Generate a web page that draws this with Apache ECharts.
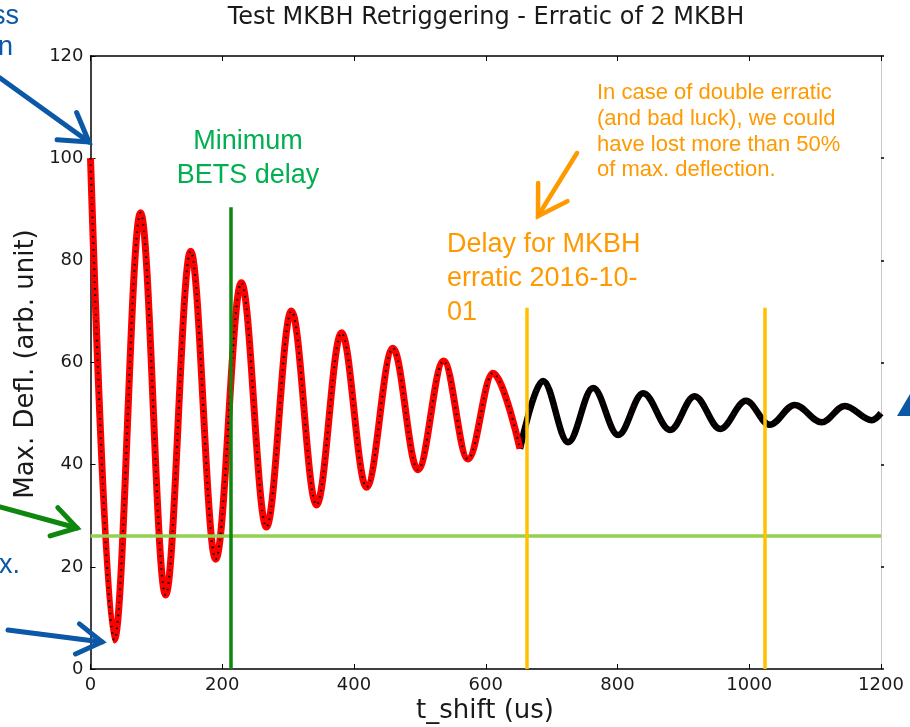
<!DOCTYPE html>
<html><head><meta charset="utf-8">
<script src="https://cdn.jsdelivr.net/npm/echarts@6/dist/echarts.min.js"></script>
<style>html,body{margin:0;padding:0;background:#fff}#c{width:910px;height:727px}</style>
</head><body><div id="c"></div>
<script>
// ---- data (peaks / troughs of the damped oscillation) ----
const tShift  = [0, 36, 76, 114, 152, 190, 229, 267, 305, 343, 381, 419, 459, 497, 536, 573, 611, 652,
                 687, 725, 763, 801, 839, 880, 917, 956, 995, 1031, 1069, 1110, 1145, 1186, 1200];
const maxDefl = [100, 5.7, 89.3, 14.5, 81.8, 21.5, 75.6, 27.8, 70.1, 32.1, 65.8, 35.6, 62.8, 39.0, 60.3, 41.1, 57.9, 43.1,
                 56.4, 44.4, 55.0, 45.8, 54.0, 46.8, 53.4, 47.0, 52.5, 47.8, 51.7, 48.3, 51.5, 48.7, 50.1];
const redUntil = 652;                 // red marker series ends here
const minBetsDelay = 213;             // green vertical line
const minBetsTop = 90.4;
const erraticDelays = [662, 1024];    // yellow vertical lines
const erraticTop = 70.7;
const halfLevel = 26;                 // light green horizontal line
const xTickValues = [0, 200, 400, 600, 800, 1000, 1200];
const yTickValues = [0, 20, 40, 60, 80, 100, 120];

const fullPts = tShift.map((t, i) => [t, maxDefl[i]]);
const redPts = fullPts.filter(p => p[0] <= redUntil);
const blackPts = fullPts.filter(p => p[0] >= redUntil);
const SMOOTH = 0.36;

const chart = echarts.init(document.getElementById('c'), null, {renderer: 'canvas'});

function arrow(x1, y1, x2, y2, color, w, head, spread) {
  const a = Math.atan2(y2 - y1, x2 - x1);
  const s = spread || 0.5;
  const p1 = [x2 - head * Math.cos(a - s), y2 - head * Math.sin(a - s)];
  const p2 = [x2 - head * Math.cos(a + s), y2 - head * Math.sin(a + s)];
  return [
    {type: 'line', shape: {x1, y1, x2, y2}, style: {stroke: color, lineWidth: w, lineCap: 'round'}, z: 100},
    {type: 'polyline', shape: {points: [p1, [x2, y2], p2]}, style: {stroke: color, lineWidth: w, fill: null, lineCap: 'round', lineJoin: 'miter'}, z: 100}
  ];
}
function txt(text, x, y, size, color, align, family, extra) {
  return Object.assign({type: 'text', x, y, z: 100,
    style: {text, font: size + 'px ' + (family || '"Liberation Sans", Arial, sans-serif'), fill: color,
            align: align || 'left', verticalAlign: 'middle'}}, extra || {});
}

const BLUE = '#0B58A6', GREEN_TXT = '#00B050', GREEN_D = '#0E870E', ORANGE = '#FF9900';
const tickFont = {fontFamily: '"DejaVu Sans", sans-serif', fontSize: 18, color: '#1a1a1a'};
const DJ = '"DejaVu Sans", sans-serif';

const graphics = [
  txt('Test MKBH Retriggering - Erratic of 2 MKBH', 486, 18, 24, '#1a1a1a', 'center', DJ),
  txt('Max. Defl. (arb. unit)', 26, 364, 26, '#1a1a1a', 'center', DJ, {rotation: Math.PI / 2}),
  txt('t_shift (us)', 485, 711, 26, '#1a1a1a', 'center', DJ),
  txt('Minimum', 248, 142, 27, GREEN_TXT, 'center'),
  txt('BETS delay', 248, 176, 27, GREEN_TXT, 'center'),
  txt('Delay for MKBH', 447, 245, 27, ORANGE, 'left'),
  txt('erratic 2016-10-', 447, 279, 27, ORANGE, 'left'),
  txt('01', 447, 313, 27, ORANGE, 'left'),
  txt('In case of double erratic', 597, 93, 22, ORANGE, 'left'),
  txt('(and bad luck), we could', 597, 118.5, 22, ORANGE, 'left'),
  txt('have lost more than 50%', 597, 144.5, 22, ORANGE, 'left'),
  txt('of max. deflection.', 597, 170, 22, ORANGE, 'left'),
  txt('ss', 19, 17, 27, BLUE, 'right'),
  txt('n', 13, 48, 27, BLUE, 'right'),
  txt('x.', 20, 566, 27, BLUE, 'right'),
  {type: 'polygon', shape: {points: [[897, 416], [910, 394], [910, 416]]}, style: {fill: BLUE}, z: 100},
  ...arrow(0, 78, 89, 142, BLUE, 5, 32, 0.55),
  ...arrow(8, 630, 102, 642, BLUE, 5, 29, 0.55),
  ...arrow(0, 507, 77, 528, GREEN_D, 5, 28, 0.55),
  ...arrow(577, 153, 538, 216, ORANGE, 4.5, 33, 0.55)
];

const lineBase = {type: 'line', smooth: SMOOTH, smoothMonotone: 'x', showSymbol: false};

const option = {
  animation: false,
  backgroundColor: '#fff',
  grid: {left: 90.5, right: 29, top: 56, bottom: 58, containLabel: false},
  xAxis: [{
    type: 'value', min: 0, max: 1200, interval: 200, position: 'bottom',
    axisLine: {show: true, onZero: false, lineStyle: {color: '#000', width: 1.5}},
    axisTick: {show: true, inside: true, length: 5, lineStyle: {color: '#000'}},
    axisLabel: Object.assign({margin: 7, formatter: v => xTickValues.includes(v) ? String(v) : ''}, tickFont),
    splitLine: {show: false}
  }, {
    type: 'value', min: 0, max: 1200, interval: 200, position: 'top',
    axisLine: {show: true, onZero: false, lineStyle: {color: '#000', width: 1.5}},
    axisTick: {show: true, inside: true, length: 5, lineStyle: {color: '#000'}},
    axisLabel: {show: false}, splitLine: {show: false}
  }],
  yAxis: [{
    type: 'value', min: 0, max: 120, interval: 20, position: 'left',
    axisLine: {show: true, onZero: false, lineStyle: {color: '#000', width: 1.5}},
    axisTick: {show: true, inside: true, length: 5, lineStyle: {color: '#000'}},
    axisLabel: Object.assign({margin: 7, formatter: v => yTickValues.includes(v) ? String(v) : ''}, tickFont),
    splitLine: {show: false}
  }, {
    type: 'value', min: 0, max: 120, interval: 20, position: 'right',
    axisLine: {show: true, onZero: false, lineStyle: {color: '#c8c8c8', width: 1}},
    axisTick: {show: true, inside: false, length: 3, lineStyle: {color: '#000', width: 1.5}},
    axisLabel: {show: false}, splitLine: {show: false}
  }],
  series: [
    {
      name: 'level', type: 'line', data: [], z: 1, silent: true,
      markLine: {silent: true, symbol: 'none', label: {show: false},
        lineStyle: {color: '#92D050', width: 3.5, type: 'solid'},
        data: [[{coord: [0, halfLevel]}, {coord: [1200, halfLevel]}]]}
    },
    Object.assign({name: 'after', data: blackPts, z: 3, lineStyle: {color: '#000', width: 6.5}}, lineBase),
    Object.assign({name: 'after-red', data: blackPts, z: 4, lineStyle: {color: '#c00000', width: 1.5, type: [1, 9], opacity: 0.6}}, lineBase),
    Object.assign({name: 'before', data: redPts, z: 3, lineStyle: {color: '#ff0000', width: 7}}, lineBase),
    Object.assign({name: 'before-black', data: redPts, z: 4, lineStyle: {color: '#000', width: 2.2, type: [1.5, 5]}}, lineBase),
    {
      name: 'delays', type: 'line', data: [], z: 10, silent: true,
      markLine: {silent: true, symbol: 'none', label: {show: false},
        data: [
          [{coord: [minBetsDelay, 0], lineStyle: {color: '#0E870E', width: 3.5, type: 'solid'}}, {coord: [minBetsDelay, minBetsTop]}],
          ...erraticDelays.map(d => [{coord: [d, 0], lineStyle: {color: '#FFC000', width: 3.5, type: 'solid'}}, {coord: [d, erraticTop]}])
        ]}
    }
  ],
  graphic: graphics
};
chart.setOption(option);
</script></body></html>
